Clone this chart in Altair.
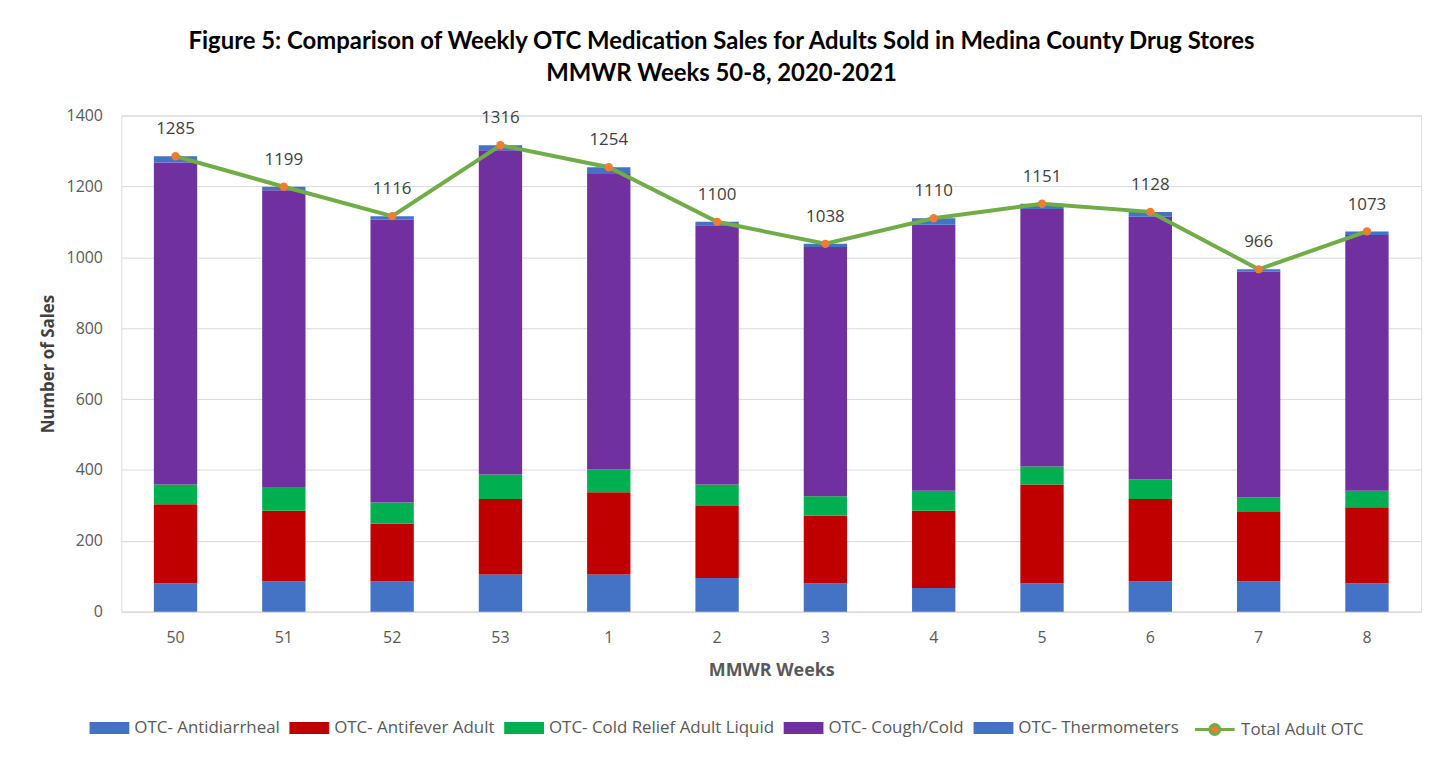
import altair as alt
import pandas as pd

weeks = ["50", "51", "52", "53", "1", "2", "3", "4", "5", "6", "7", "8"]
antidiarrheal = [80, 86, 86, 105, 105, 95, 80, 67, 80, 86, 86, 80]
antifever = [223, 199, 162, 213, 232, 203, 191, 218, 279, 232, 195, 215]
cold_liquid = [56, 65, 60, 69, 64, 61, 55, 56, 51, 55, 42, 46]
cough_cold = [908, 839, 798, 915, 834, 731, 703, 751, 726, 741, 636, 722]
thermometers = [18, 10, 10, 14, 19, 10, 9, 18, 15, 14, 7, 10]
totals = [1285, 1199, 1116, 1316, 1254, 1100, 1038, 1110, 1151, 1128, 966, 1073]

series_names = ["OTC- Antidiarrheal", "OTC- Antifever Adult",
                "OTC- Cold Relief Adult Liquid", "OTC- Cough/Cold",
                "OTC- Thermometers"]
series_colors = ["#4472C4", "#C00000", "#00B050", "#7030A0", "#4472C4"]
total_name = "Total Adult OTC"

series_values = [antidiarrheal, antifever, cold_liquid, cough_cold, thermometers]
rows = []
for si, (name, vals) in enumerate(zip(series_names, series_values)):
    for w, v in zip(weeks, vals):
        rows.append({"week": w, "series": name, "value": v, "order": si})
bars_df = pd.DataFrame(rows)
tot_df = pd.DataFrame({"week": weeks, "total": totals, "series": [total_name] * len(weeks)})

FONT = "Open Sans"
TFONT = "Lato"

x_enc = alt.X("week:N", sort=weeks,
              scale=alt.Scale(paddingInner=0.6, paddingOuter=0.3),
              axis=alt.Axis(title="MMWR  Weeks", labelAngle=0, labelFontSize=16,
                            labelColor="#595959", labelFont=FONT, labelPadding=18,
                            ticks=False, domainColor="#D9D9D9",
                            titleFontSize=18, titleFont=FONT, titleFontWeight="bold",
                            titleColor="#595959", titlePadding=16))
y_scale = alt.Scale(domain=[0, 1400])

bar_legend = alt.Legend(title=None, orient="none", direction="horizontal",
                        legendX=-32, legendY=596,
                        symbolType="M-1,-0.3L1,-0.3L1,0.3L-1,0.3Z",
                        symbolSize=1600, symbolStrokeWidth=0, symbolOpacity=1,
                        labelFontSize=17, labelFont=FONT, labelColor="#595959",
                        labelOffset=5, columnPadding=9, labelLimit=400)

bars = alt.Chart(bars_df).mark_bar().encode(
    x=x_enc,
    y=alt.Y("value:Q", stack="zero", scale=y_scale,
            axis=alt.Axis(title="Number of Sales", values=list(range(0, 1401, 200)),
                          format="d",
                          labelFontSize=16, labelColor="#595959", labelFont=FONT,
                          labelPadding=19, ticks=False, domain=False,
                          gridColor="#D9D9D9", titleFontSize=17, titleFont=FONT,
                          titleFontWeight="bold", titleColor="#404040",
                          titlePadding=9)),
    color=alt.Color("series:N", scale=alt.Scale(domain=series_names, range=series_colors),
                    legend=bar_legend),
    order=alt.Order("order:Q"),
)

line_legend = alt.Legend(title=None, orient="none", direction="horizontal",
                         legendX=1078, legendY=596,
                         symbolType="M-1,0L-0.25,0M0.25,0L1,0M0.25,0A0.25,0.25,0,1,1,-0.25,0A0.25,0.25,0,1,1,0.25,0Z",
                         symbolSize=1600, symbolStrokeWidth=3,
                         symbolFillColor="#ED7D31",
                         labelFontSize=17, labelFont=FONT, labelColor="#595959",
                         labelOffset=5, labelLimit=400)

line = alt.Chart(tot_df).mark_line(strokeWidth=4).encode(
    x=alt.X("week:N", sort=weeks),
    y=alt.Y("total:Q", scale=y_scale),
    stroke=alt.Stroke("series:N", scale=alt.Scale(domain=[total_name], range=["#70AD47"]),
                      legend=line_legend),
)

points = alt.Chart(tot_df).mark_point(filled=True, color="#ED7D31", size=70,
                                      opacity=1).encode(
    x=alt.X("week:N", sort=weeks),
    y=alt.Y("total:Q", scale=y_scale),
)

labels = alt.Chart(tot_df).mark_text(dy=-27, fontSize=17, font=FONT,
                                     color="#404040").encode(
    x=alt.X("week:N", sort=weeks),
    y=alt.Y("total:Q", scale=y_scale),
    text=alt.Text("total:Q"),
)

chart = alt.layer(bars, line, points, labels).resolve_scale(
    color="independent"
).properties(
    width=1307,
    height=499,
    autosize="none",
    padding={"left": 114, "top": 106, "right": 20, "bottom": 140},
    title=alt.TitleParams(
        text=["Figure 5: Comparison of Weekly OTC Medication Sales for Adults Sold in Medina County Drug Stores",
              "MMWR Weeks 50-8, 2020-2021"],
        fontSize=24, font=TFONT, fontWeight="bold", color="#000000",
        anchor="middle", dx=-50, lineHeight=32, offset=22),
).configure_view(stroke=None).configure(background="white")

chart.save("out.html", embed_options={"renderer": "svg", "actions": False})
